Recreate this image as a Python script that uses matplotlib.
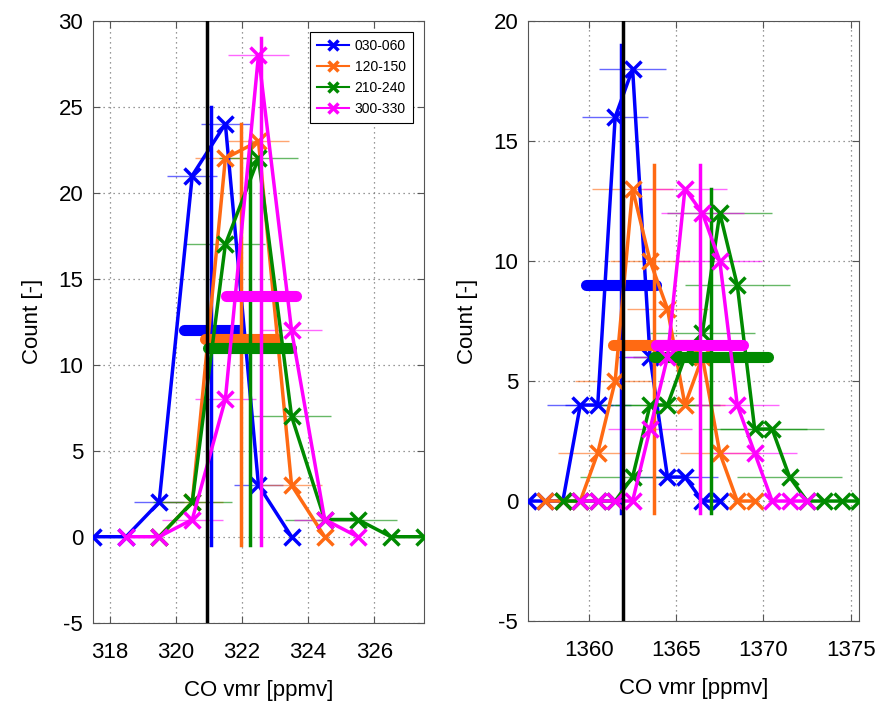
import numpy as np
import matplotlib
matplotlib.use("Agg")
import matplotlib.pyplot as plt

plt.rcParams['font.family'] = ['Liberation Sans', 'DejaVu Sans']
plt.rcParams['axes.unicode_minus'] = False

# Series labels and colours
labels = ['030-060', '120-150', '210-240', '300-330']
colours = ['#0000FF', '#FF6A13', '#008A00', '#FF00FF']

# ---- Left panel (CO vmr ~ 320 ppmv) ----
left_x = [
    [317.5, 318.5, 319.5, 320.5, 321.5, 322.5, 323.5],
    [319.5, 320.5, 321.5, 322.5, 323.5, 324.5],
    [319.5, 320.5, 321.5, 322.5, 323.5, 324.5, 325.5, 326.5, 327.5],
    [318.5, 319.5, 320.5, 321.5, 322.5, 323.5, 324.5, 325.5],
]
left_counts = [
    [0, 0, 2, 21, 24, 3, 0],
    [0, 2, 22, 23, 3, 0],
    [0, 2, 17, 22, 7, 1, 1, 0, 0],
    [0, 0, 1, 8, 28, 12, 1, 0],
]
left_xerr = [0.75, 0.92, 1.2, 0.92]          # horizontal error bars
left_mean = [321.08, 321.97, 322.24, 322.57]  # vertical lines
left_halfwidth = [0.83, 1.1, 1.25, 1.05]      # thick bars at half max
left_ref = 320.95

# ---- Right panel (CO vmr ~ 1365 ppmv) ----
right_x = [
    [1356.5, 1357.5, 1358.5, 1359.5, 1360.5, 1361.5, 1362.5, 1363.5, 1364.5,
     1365.5, 1366.5, 1367.5],
    [1357.5, 1358.5, 1359.5, 1360.5, 1361.5, 1362.5, 1363.5, 1364.5, 1365.5,
     1366.5, 1367.5, 1368.5, 1369.5],
    [1358.5, 1359.5, 1360.5, 1361.5, 1362.5, 1363.5, 1364.5, 1365.5, 1366.5,
     1367.5, 1368.5, 1369.5, 1370.5, 1371.5, 1372.5, 1373.5, 1374.5, 1375.5],
    [1359.5, 1360.5, 1361.5, 1362.5, 1363.5, 1364.5, 1365.5, 1366.5, 1367.5,
     1368.5, 1369.5, 1370.5, 1371.5, 1372.5],
]
right_counts = [
    [0, 0, 0, 4, 4, 16, 18, 6, 1, 1, 0, 0],
    [0, 0, 0, 2, 5, 13, 10, 8, 4, 6, 2, 0, 0],
    [0, 0, 0, 0, 1, 4, 4, 6, 7, 12, 9, 3, 3, 1, 0, 0, 0, 0],
    [0, 0, 0, 0, 3, 6, 13, 12, 10, 4, 2, 0, 0, 0],
]
right_xerr = [1.9, 2.3, 3.0, 2.4]
right_mean = [1361.85, 1363.7, 1367.0, 1366.35]
right_halfwidth = [2.0, 2.3, 3.25, 2.5]
right_ref = 1361.95


def draw_panel(ax, xs, counts, xerr, means, halfw, ref):
    handles = []
    for i in range(len(labels)):
        x = np.array(xs[i])
        c = np.array(counts[i])
        nz = c > 0
        # thin error bars on the non-zero bins
        ax.errorbar(x[nz], c[nz], xerr=xerr[i], fmt='none', ecolor=colours[i],
                    elinewidth=1.0, alpha=0.6, capsize=0, zorder=2)
        h, = ax.plot(x, c, '-x', color=colours[i], lw=2.5, ms=12, mew=2.5,
                     label=labels[i], zorder=3)
        handles.append(h)
        # mean line and half-max width bar
        ax.plot([means[i], means[i]], [-0.5, c.max() + 1], color=colours[i],
                lw=2.5, zorder=3)
        ax.plot([means[i] - halfw[i], means[i] + halfw[i]], [c.max() / 2] * 2,
                color=colours[i], lw=8, solid_capstyle='round', zorder=3)
    ax.axvline(ref, color='black', lw=2.5, zorder=4)
    ax.grid(True, linestyle=(0, (1, 3)), color='#777777', lw=0.9)
    ax.set_axisbelow(True)
    ax.tick_params(direction='in', top=True, right=True, labelsize=16,
                   length=5, color='#555555')
    ax.tick_params(axis='x', pad=14)
    ax.tick_params(axis='y', pad=7)
    for s in ax.spines.values():
        s.set_color('#555555')
    ax.set_xlabel('CO vmr [ppmv]', fontsize=16, labelpad=12)
    ax.set_ylabel('Count [-]', fontsize=16, labelpad=11)
    return handles


fig = plt.figure(figsize=(8.82, 7.05), dpi=100)
ax1 = fig.add_axes([0.1054, 0.1167, 0.3753, 0.8539])
ax2 = fig.add_axes([0.5986, 0.1191, 0.3757, 0.8511])

hs = draw_panel(ax1, left_x, left_counts, left_xerr, left_mean, left_halfwidth, left_ref)
ax1.set_xlim(317.5, 327.5)
ax1.set_ylim(-5, 30)
ax1.set_xticks([318, 320, 322, 324, 326])
ax1.set_yticks(np.arange(-5, 31, 5))
leg = ax1.legend(handles=hs, loc='upper right', fontsize=10, frameon=True,
                 fancybox=False, edgecolor='black', framealpha=1,
                 handlelength=2.3, handletextpad=0.4, borderaxespad=0.8,
                 markerscale=0.6, labelspacing=0.5, borderpad=0.5)
leg.get_frame().set_linewidth(0.8)
for lh in leg.get_lines():
    lh.set_linewidth(1.5)

draw_panel(ax2, right_x, right_counts, right_xerr, right_mean, right_halfwidth, right_ref)
ax2.set_xlim(1356.5, 1375.5)
ax2.set_ylim(-5, 20)
ax2.set_xticks([1360, 1365, 1370, 1375])
ax2.set_yticks(np.arange(-5, 21, 5))

fig.savefig('out.png', dpi=100)
